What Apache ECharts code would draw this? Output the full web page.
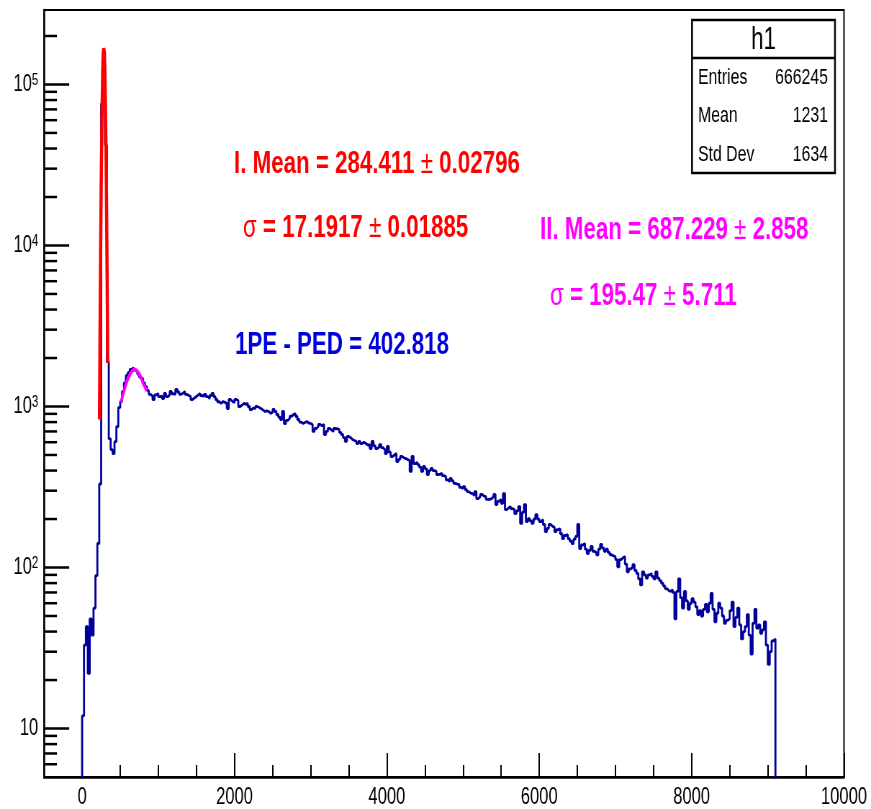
<!DOCTYPE html>
<html>
<head>
<meta charset="utf-8">
<title>h1</title>
<script src="https://cdn.jsdelivr.net/npm/echarts@6/dist/echarts.min.js"></script>
<style>
  html, body { margin: 0; padding: 0; background: #fff; overflow: hidden; }
  #wrap { width: 871px; height: 809px; overflow: hidden; }
  /* the reference canvas is squeezed horizontally, so draw wide and squeeze */
  #chart { width: 1210px; height: 809px; transform: scaleX(0.71983); transform-origin: 0 0; }
</style>
</head>
<body>
<div id="wrap"><div id="chart"></div></div>
<script>
const SX = 871 / 1210
const px = x => x / SX   // reference pixel -> chart pixel (horizontal)
const FONT = '"Liberation Sans", Arial, Helvetica, sans-serif'

// histogram: 25-wide bins starting at 0
const BIN_START = 0
const BIN_WIDTH = 25
const histCounts = [
  12, 33, 43, 22, 48, 38, 56, 89, 141, 330,
  76000, 160000, 42000, 1900, 630, 540, 510, 605, 750, 985,
  1075, 1240, 1400, 1560, 1620, 1700, 1740, 1680, 1640, 1590,
  1520, 1480, 1400, 1330, 1260, 1190, 1160, 1105, 1180, 1205,
  1150, 1160, 1120, 1205, 1150, 1180, 1240, 1200, 1190, 1275,
  1230, 1190, 1210, 1240, 1190, 1170, 1154, 1105, 1130, 1154,
  1180, 1205, 1170, 1154, 1190, 1150, 1120, 1170, 1205, 1150,
  1105, 1070, 1045, 1074, 1060, 1045, 970, 1105, 1074, 1060,
  1105, 1090, 1000, 1020, 1045, 1030, 1045, 1000, 958, 980,
  970, 1000, 985, 970, 950, 931, 940, 931, 905, 920,
  958, 930, 892, 860, 830, 931, 784, 820, 842, 870,
  892, 905, 870, 830, 800, 784, 795, 807, 790, 784,
  773, 700, 730, 751, 773, 760, 773, 670, 700, 730,
  715, 700, 730, 725, 720, 690, 670, 640, 607, 652,
  640, 624, 615, 607, 589, 607, 589, 600, 589, 575,
  580, 548, 607, 570, 548, 560, 580, 555, 540, 510,
  565, 520, 489, 500, 510, 455, 470, 489, 480, 475,
  468, 460, 395, 489, 442, 450, 435, 420, 395, 424,
  410, 378, 400, 412, 400, 395, 378, 380, 384, 372,
  367, 350, 342, 357, 345, 333, 330, 328, 315, 309,
  318, 305, 296, 290, 288, 280, 296, 268, 275, 284,
  278, 276, 265, 265, 268, 275, 284, 246, 258, 265,
  250, 288, 229, 235, 239, 232, 229, 216, 225, 239,
  188, 220, 246, 193, 201, 195, 188, 200, 213, 200,
  193, 198, 185, 167, 175, 185, 180, 178, 167, 172,
  174, 162, 151, 158, 160, 151, 146, 141, 150, 156,
  185, 131, 138, 141, 130, 122, 128, 135, 126, 124,
  120, 130, 139, 132, 126, 130, 124, 120, 118, 117,
  112, 101, 112, 115, 117, 105, 94, 98, 100, 104,
  96, 92, 85, 78, 94, 90, 86, 90, 92, 88,
  85, 94, 86, 83, 80, 77, 74, 72, 71, 73,
  70, 48, 71, 85, 65, 56, 71, 62, 55, 60,
  64, 61, 57, 51, 54, 50, 55, 59, 53, 60,
  69, 55, 46, 52, 60, 56, 50, 45, 47, 48,
  54, 61, 43, 49, 56, 44, 36, 40, 43, 51,
  38, 29, 45, 55, 42, 44, 39, 41, 46, 33,
  25, 30, 35, 36,
]

// pedestal fit (red) and 1PE fit (magenta)
const fit1X = [228, 240, 250, 260, 270, 278, 284, 290, 298, 308, 318, 328, 336]
const fit1Y = [830, 5980, 22700, 61400, 118000, 157000, 168000, 159000, 123000, 65500, 24900, 6750, 1860]
const fit2X = [510, 550, 590, 630, 660, 687, 720, 760, 800, 850]
const fit2Y = [1060, 1250, 1440, 1590, 1670, 1700, 1670, 1560, 1400, 1250]

// log y axis ticks: decades (long) and 2..9 x 10^n (short)
const yMajorTicks = [10, 100, 1000, 10000, 100000]
const yMinorTicks = [
  6, 7, 8, 9,
  20, 30, 40, 50, 60, 70, 80, 90,
  200, 300, 400, 500, 600, 700, 800, 900,
  2000, 3000, 4000, 5000, 6000, 7000, 8000, 9000,
  20000, 30000, 40000, 50000, 60000, 70000, 80000, 90000,
  200000,
]

const statsTitle = 'h1'
const statsRows = [['Entries', '666245'], ['Mean', '1231'], ['Std Dev', '1634']]

const X_MIN = -500, X_MAX = 10000
const Y_MIN = 5, Y_MAX = 290000

function histLine() {
  const pts = [[BIN_START, 1]]
  histCounts.forEach((c, i) => pts.push([BIN_START + i * BIN_WIDTH, c]))
  const xEnd = BIN_START + histCounts.length * BIN_WIDTH
  pts.push([xEnd, histCounts[histCounts.length - 1]], [xEnd, 1])
  return pts
}

const zip = (xs, ys) => xs.map((x, i) => [x, ys[i]])

function fitText(text, x, y, color) {
  return {
    type: 'text', x: px(x), y,
    style: {
      text, fill: color, font: `bold 31px ${FONT}`, verticalAlign: 'middle',
      rich: { s: { fill: color, font: `normal 31px ${FONT}` } },
    },
  }
}

const statText = (text, x, y, size, align) => ({
  type: 'text', x, y,
  style: { text, fill: '#000', font: `${size}px ${FONT}`, align, verticalAlign: 'middle' },
})

function statsBox() {
  const x0 = px(692), x1 = px(835)
  const els = [
    { type: 'rect', shape: { x: x0, y: 20, width: x1 - x0, height: 153 },
      style: { fill: '#fff', stroke: '#000', lineWidth: 2.5 } },
    { type: 'line', shape: { x1: x0, y1: 58, x2: x1, y2: 58 },
      style: { stroke: '#000', lineWidth: 2.5 } },
    statText(statsTitle, (x0 + x1) / 2, 40, 31, 'center'),
  ]
  const rowY = [78, 116, 155]
  statsRows.forEach(([k, v], i) => {
    els.push(statText(k, px(698), rowY[i], 22, 'left'))
    els.push(statText(v, px(828), rowY[i], 22, 'right'))
  })
  return els
}

const chart = echarts.init(document.getElementById('chart'))

chart.setOption({
  animation: false,
  backgroundColor: '#fff',
  grid: {
    left: px(44), right: 1210 - px(844), top: 10, bottom: 32,
    show: true, borderColor: '#000', borderWidth: 2,
    outerBoundsMode: 'none',
  },
  xAxis: {
    type: 'value', min: X_MIN, max: X_MAX, splitNumber: 5,
    axisLine: { show: true, onZero: false, lineStyle: { color: '#000', width: 2.5 } },
    axisTick: { show: true, inside: true, length: 24, lineStyle: { color: '#000', width: 2 } },
    minorTick: { show: true, splitNumber: 4, length: 12, lineStyle: { color: '#000', width: 2 } },
    splitLine: { show: false },
    axisLabel: {
      showMinLabel: false, margin: 9, color: '#000', fontSize: 23, fontFamily: FONT,
      formatter: v => String(v),
    },
  },
  yAxis: {
    type: 'log', logBase: 10, min: Y_MIN, max: Y_MAX,
    axisLine: { show: true, onZero: false, lineStyle: { color: '#000', width: 2.5 } },
    axisTick: { show: false },
    splitLine: { show: false },
    axisLabel: {
      showMinLabel: false, showMaxLabel: false, margin: 8,
      color: '#000', fontSize: 23, fontFamily: FONT,
      formatter(v) {
        const e = Math.round(Math.log10(v))
        return e === 1 ? '10' : `10{sup|${e}}`
      },
      rich: { sup: { fontSize: 16, fontFamily: FONT, color: '#000', verticalAlign: 'top' } },
    },
  },
  series: [
    {
      type: 'line', step: 'end', data: histLine(), symbol: 'none', clip: true,
      lineStyle: { color: '#000099', width: 2.8 }, z: 2,
    },
    {
      type: 'line', data: zip(fit1X, fit1Y), symbol: 'none', clip: true,
      lineStyle: { color: '#ff0000', width: 4.5 }, z: 3,
    },
    {
      type: 'line', data: zip(fit2X, fit2Y), symbol: 'none', smooth: 0.3, clip: true,
      lineStyle: { color: '#ff00ff', width: 3.8 }, z: 3,
    },
    {
      // y ticks drawn inward from the left frame
      type: 'custom', z: 10, silent: true, clip: false,
      data: yMajorTicks.map(v => [X_MIN, v, 35]).concat(yMinorTicks.map(v => [X_MIN, v, 18])),
      renderItem(params, api) {
        const p = api.coord([api.value(0), api.value(1)])
        return {
          type: 'line',
          shape: { x1: p[0], y1: p[1], x2: p[0] + api.value(2), y2: p[1] },
          style: { stroke: '#000', lineWidth: 2.5 },
        }
      },
    },
  ],
  graphic: [
    fitText('I. Mean = 284.411 {s|±} 0.02796', 234, 164, '#ff0000'),
    fitText('{s|σ} = 17.1917 {s|±} 0.01885', 243, 228, '#ff0000'),
    fitText('II. Mean = 687.229 {s|±} 2.858', 540, 230, '#ff00ff'),
    fitText('{s|σ} = 195.47 {s|±} 5.711', 550, 296, '#ff00ff'),
    fitText('1PE - PED = 402.818', 235, 345, '#0000dd'),
    ...statsBox(),
  ],
})
</script>
</body>
</html>
